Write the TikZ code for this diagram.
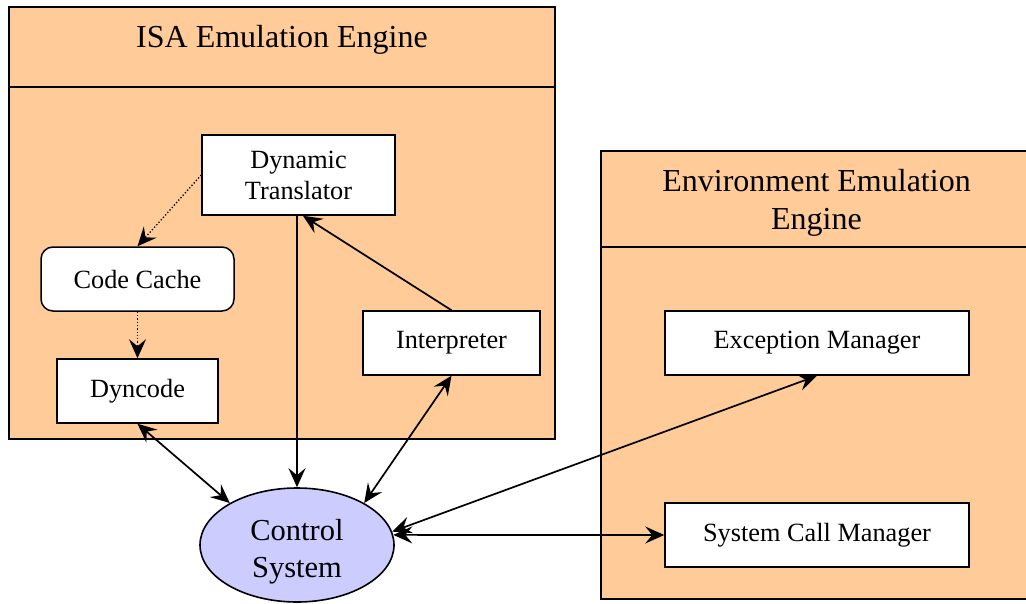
\documentclass[tikz,border=0pt]{standalone}
\usepackage{fontspec}
\setmainfont{Liberation Serif}
\usetikzlibrary{arrows.meta,shapes.geometric,calc}
\definecolor{orng}{RGB}{255,204,153}
\definecolor{lilac}{RGB}{204,204,255}
\begin{document}
\begin{tikzpicture}[x=1pt,y=-1pt,
  box/.style={draw,line width=1.5pt,fill=white,inner sep=0pt,align=center,font=\fontsize{26.3}{31}\selectfont},
  panel/.style={draw,line width=1.5pt,fill=orng,inner sep=0pt},
  ttl/.style={align=center,font=\fontsize{32}{38}\selectfont},
  tip/.tip={Stealth[length=19pt,width=17pt,inset=7pt]},
  arr/.style={line width=1.7pt,-tip},
  darr/.style={line width=1.7pt,tip-tip},
  dotarr/.style={line width=1.3pt,dotted,-tip},
]
\clip (0,0) rectangle (1026,603);
\useasboundingbox (0,0) rectangle (1026,603);
% panels
\node[panel,minimum width=546,minimum height=432] (isa) at (282,223) {};
\draw[line width=1.2pt] (isa.west |- 0,87) -- (isa.east |- 0,87);
\node[ttl,anchor=base] (isat) at (282,47) {ISA Emulation Engine};
\node[panel,minimum width=430,minimum height=448] (env) at (816,375) {};
\draw[line width=1.2pt] (env.west |- 0,247) -- (env.east |- 0,247);
\node[ttl] (envt) at (816.5,203) {Environment Emulation\\Engine};
% inner boxes
\node[box,minimum width=193,minimum height=80] (dt) at (298.5,175) {Dynamic\\Translator};
\node[box,rounded corners=12pt,minimum width=193,minimum height=64] (cc) at (137.5,279) {Code Cache};
\node[box,minimum width=161,minimum height=64] (dyn) at (137.5,391) {Dyncode};
\node[box,minimum width=177,minimum height=64] (int) at (451.5,343) {Interpreter};
\node[box,minimum width=304,minimum height=64] (exc) at (817,343) {Exception Manager};
\node[box,minimum width=304,minimum height=64] (sys) at (817,535) {System Call Manager};
\node[ellipse,draw,line width=1.6pt,fill=lilac,inner sep=0pt,minimum width=194,minimum height=114] (cs) at (297,545) {};
\node[align=center,font=\fontsize{30.5}{37}\selectfont] (cst) at (297,552) {Control\\System};
% connectors
\draw[dotarr] (dt.west) -- (cc.north);
\draw[dotarr] (cc.south) -- (dyn.north);
\draw[arr] (cs.north |- dt.south) -- (cs.north);
\draw[arr] (int.north) -- ($(dt.south)+(4.5,0)$);
\draw[darr] (dyn.south) -- (cs.148);
\draw[darr] (int.south) -- (cs.32);
\draw[darr] (exc.south) -- (cs.8);
\draw[darr] (sys.west) -- (cs.6);
\end{tikzpicture}
\end{document}
